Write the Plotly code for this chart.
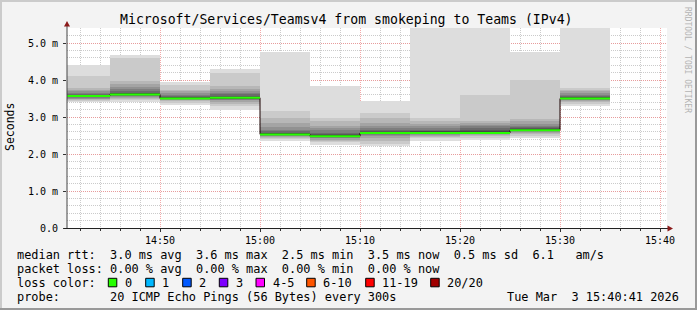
import datetime as dt
import plotly.graph_objects as go

DAY = "2026-03-03"
TITLE = "Microsoft/Services/Teamsv4 from smokeping to Teams (IPv4)"

# 5-minute buckets (start times), median rtt in ms
bin_start = ["14:40", "14:45", "14:50", "14:55", "15:00", "15:05",
             "15:10", "15:15", "15:20", "15:25", "15:30"]
median_ms = [3.57, 3.61, 3.50, 3.52, 2.53, 2.48, 2.57, 2.57, 2.57, 2.64, 3.50]

# 20 sorted pings per bucket (ms), read from the smoke
smoke_1440 = [3.40, 3.43, 3.45, 3.48, 3.50, 3.52, 3.53, 3.55, 3.56, 3.57,
              3.57, 3.58, 3.60, 3.63, 3.66, 3.69, 3.73, 3.78, 4.10, 4.41]
smoke_1445 = [3.40, 3.45, 3.48, 3.51, 3.54, 3.56, 3.58, 3.59, 3.60, 3.61,
              3.61, 3.63, 3.66, 3.70, 3.75, 3.82, 3.90, 3.96, 4.59, 4.68]
smoke_1450 = [3.33, 3.39, 3.43, 3.45, 3.47, 3.48, 3.49, 3.50, 3.50, 3.50,
              3.51, 3.52, 3.54, 3.57, 3.60, 3.65, 3.70, 3.74, 3.87, 3.94]
smoke_1455 = [3.19, 3.29, 3.36, 3.41, 3.45, 3.47, 3.49, 3.50, 3.51, 3.52,
              3.52, 3.54, 3.57, 3.61, 3.65, 3.69, 3.75, 3.85, 4.19, 4.31]
smoke_1500 = [2.36, 2.40, 2.44, 2.46, 2.48, 2.50, 2.51, 2.52, 2.53, 2.53,
              2.54, 2.56, 2.58, 2.61, 2.66, 2.72, 2.85, 2.97, 3.15, 4.75]
smoke_1505 = [2.25, 2.32, 2.36, 2.39, 2.42, 2.44, 2.45, 2.46, 2.47, 2.48,
              2.49, 2.51, 2.54, 2.58, 2.64, 2.70, 2.75, 2.90, 2.97, 3.83]
smoke_1510 = [2.22, 2.27, 2.35, 2.43, 2.48, 2.51, 2.53, 2.55, 2.56, 2.57,
              2.58, 2.60, 2.63, 2.66, 2.70, 2.75, 2.84, 2.98, 3.10, 3.42]
smoke_1515 = [2.36, 2.42, 2.47, 2.50, 2.52, 2.54, 2.55, 2.56, 2.57, 2.57,
              2.58, 2.60, 2.62, 2.65, 2.70, 2.76, 2.82, 2.88, 2.98, 5.45]
smoke_1520 = [2.39, 2.44, 2.48, 2.51, 2.53, 2.54, 2.55, 2.56, 2.57, 2.57,
              2.58, 2.61, 2.65, 2.70, 2.75, 2.79, 2.84, 2.90, 3.60, 5.45]
smoke_1525 = [2.43, 2.50, 2.54, 2.57, 2.59, 2.61, 2.62, 2.63, 2.64, 2.64,
              2.65, 2.67, 2.70, 2.73, 2.76, 2.80, 2.88, 2.95, 4.01, 4.77]
smoke_1530 = [3.31, 3.36, 3.40, 3.43, 3.45, 3.47, 3.48, 3.49, 3.50, 3.50,
              3.51, 3.52, 3.54, 3.57, 3.60, 3.64, 3.69, 3.74, 3.78, 5.45]
smoke = [smoke_1440, smoke_1445, smoke_1450, smoke_1455, smoke_1500, smoke_1505,
         smoke_1510, smoke_1515, smoke_1520, smoke_1525, smoke_1530]

ytick_vals = [0, 1, 2, 3, 4, 5]
ytick_text = ["0.0", "1.0 m", "2.0 m", "3.0 m", "4.0 m", "5.0 m"]

loss_labels = ["0", "1", "2", "3", "4-5", "6-10", "11-19", "20/20"]
loss_colors = ["#26ff00", "#00b8ff", "#0059ff", "#7e00ff", "#ff00ff", "#ff5500", "#ff0000", "#a10000"]

line_rtt = "median rtt:  3.0 ms avg  3.6 ms max  2.5 ms min  3.5 ms now  0.5 ms sd  6.1   am/s"
line_loss = "packet loss: 0.00 % avg  0.00 % max  0.00 % min  0.00 % now"
line_probe = "probe:       20 ICMP Echo Pings (56 Bytes) every 300s"
stamp = "Tue Mar  3 15:40:41 2026"

# ---------------------------------------------------------------
W, H = 697, 310
L, R, T, B = 67, 30, 28, 82
PW, PH = W - L - R, H - T - B
MONO = "DejaVu Sans Mono"


def px(x):
    return (x - L) / PW


def py(y):
    return (H - B - y) / PH


def ts(hm):
    return dt.datetime.fromisoformat(f"{DAY} {hm}")


starts = [ts(s) for s in bin_start]
step = dt.timedelta(seconds=300)
centers = [s + step / 2 for s in starts]
ends = [s + step for s in starts]

fig = go.Figure()

n = len(smoke[0])
half = n // 2
for k in range(half):
    c = int(190 / half * (half - (k + 1))) + 50
    col = f"rgb({c},{c},{c})"
    lo = [p[k] for p in smoke]
    hi = [p[n - 1 - k] for p in smoke]
    fig.add_trace(go.Bar(
        x=centers, base=lo, y=[h - l for h, l in zip(hi, lo)],
        width=[300000] * len(centers), marker=dict(color=col, line=dict(width=0)),
        hoverinfo="skip", showlegend=False))

# dark step line for median
fig.add_trace(go.Scatter(
    x=starts + [ends[-1]], y=median_ms + [median_ms[-1]], mode="lines",
    line=dict(color="#1a0000", width=1, shape="hv"), showlegend=False, hoverinfo="skip"))

gx, gy = [], []
for s, e, m in zip(starts, ends, median_ms):
    gx += [s, e, None]
    gy += [m, m, None]
fig.add_trace(go.Scatter(x=gx, y=gy, mode="lines", line=dict(color=loss_colors[0], width=2),
                         showlegend=False, hoverinfo="skip"))

fig.update_layout(
    width=W, height=H, margin=dict(l=L, r=R, t=T, b=B),
    paper_bgcolor="#f3f3f3", plot_bgcolor="#ffffff",
    barmode="overlay", bargap=0, showlegend=False,
    font=dict(family=MONO, size=10, color="#000000"),
)
fig.update_xaxes(
    type="date", range=[ts("14:40:42"), ts("15:40:42")],
    tick0=ts("14:40"), dtick=600000, tickformat="%H:%M",
    showgrid=True, gridcolor="rgba(240,140,140,0.75)", griddash="1px,1px", gridwidth=1,
    ticks="outside", ticklen=3, tickcolor="#333333",
    minor=dict(dtick=120000, tick0=ts("14:40"), showgrid=True, gridcolor="rgba(190,190,190,0.8)",
               griddash="1px,1px", ticks="outside", ticklen=2, tickcolor="#333333"),
    showline=False, zeroline=False, layer="above traces",
    tickfont=dict(family=MONO, size=10),
)
fig.update_yaxes(
    range=[0, PH / 37.0], tickvals=ytick_vals, ticktext=ytick_text,
    showgrid=True, gridcolor="rgba(240,140,140,0.75)", griddash="1px,1px", gridwidth=1,
    ticks="outside", ticklen=3, tickcolor="#333333", ticklabelstandoff=3,
    minor=dict(dtick=0.2, showgrid=True, gridcolor="rgba(190,190,190,0.8)", griddash="1px,1px"),
    showline=False, zeroline=False, layer="above traces",
    tickfont=dict(family=MONO, size=10),
)

shapes = []
# axes with arrows
shapes.append(dict(type="line", xref="paper", yref="paper", x0=px(67), x1=px(67), y0=py(228.5), y1=py(24),
                   line=dict(color="#444444", width=1)))
shapes.append(dict(type="line", xref="paper", yref="paper", x0=px(64), x1=px(669), y0=py(228.5), y1=py(228.5),
                   line=dict(color="#222222", width=1)))
shapes.append(dict(type="path", xref="paper", yref="paper",
                   path=f"M {px(67)} {py(21)} L {px(64)} {py(26.5)} L {px(70)} {py(26.5)} Z",
                   fillcolor="#8b1a1a", line=dict(width=0)))
shapes.append(dict(type="path", xref="paper", yref="paper",
                   path=f"M {px(673)} {py(228.5)} L {px(667.5)} {py(225.5)} L {px(667.5)} {py(231.5)} Z",
                   fillcolor="#8b1a1a", line=dict(width=0)))
# frame
shapes.append(dict(type="rect", xref="paper", yref="paper", x0=px(0), x1=px(W), y0=py(0), y1=py(2),
                   fillcolor="#cbcbcb", line=dict(width=0)))
shapes.append(dict(type="rect", xref="paper", yref="paper", x0=px(0), x1=px(2), y0=py(0), y1=py(H),
                   fillcolor="#cbcbcb", line=dict(width=0)))
shapes.append(dict(type="rect", xref="paper", yref="paper", x0=px(0), x1=px(W), y0=py(H - 2), y1=py(H),
                   fillcolor="#999999", line=dict(width=0)))
shapes.append(dict(type="rect", xref="paper", yref="paper", x0=px(W - 2), x1=px(W), y0=py(0), y1=py(H),
                   fillcolor="#999999", line=dict(width=0)))

annotations = []


def txt(text, x, y, size=11.9, xanchor="left", color="#000000", angle=0):
    annotations.append(dict(text=text, x=px(x), y=py(y), xref="paper", yref="paper",
                            xanchor=xanchor, yanchor="middle", showarrow=False, textangle=angle,
                            font=dict(family=MONO, size=size, color=color)))


txt(TITLE, 346.5, 19.5, size=13.2, xanchor="center")
txt("Seconds", 10, 127, size=11.5, xanchor="center", angle=-90)
txt("RRDTOOL / TOBI OETIKER", 688, 60, size=8, xanchor="center", color="#b4b4b4", angle=90)
txt(line_rtt, 15, 254.5)
txt(line_loss, 15, 268.5)
txt("loss color:", 15, 282.5)
txt(line_probe, 15, 296.5)
txt(stamp, 681, 296.5, xanchor="right")

box_left = [108.3, 145.7, 182.7, 219.3, 256.0, 306.7, 365.7, 430.7]
for bl, lab, col in zip(box_left, loss_labels, loss_colors):
    shapes.append(dict(type="rect", xref="paper", yref="paper", x0=px(bl), x1=px(bl + 8.5),
                       y0=py(278.3), y1=py(286.8), fillcolor=col, line=dict(color="#000000", width=1)))
    txt(lab, bl + 14.5, 282.5)

fig.update_layout(shapes=shapes, annotations=annotations)
fig.write_html("out.html")
